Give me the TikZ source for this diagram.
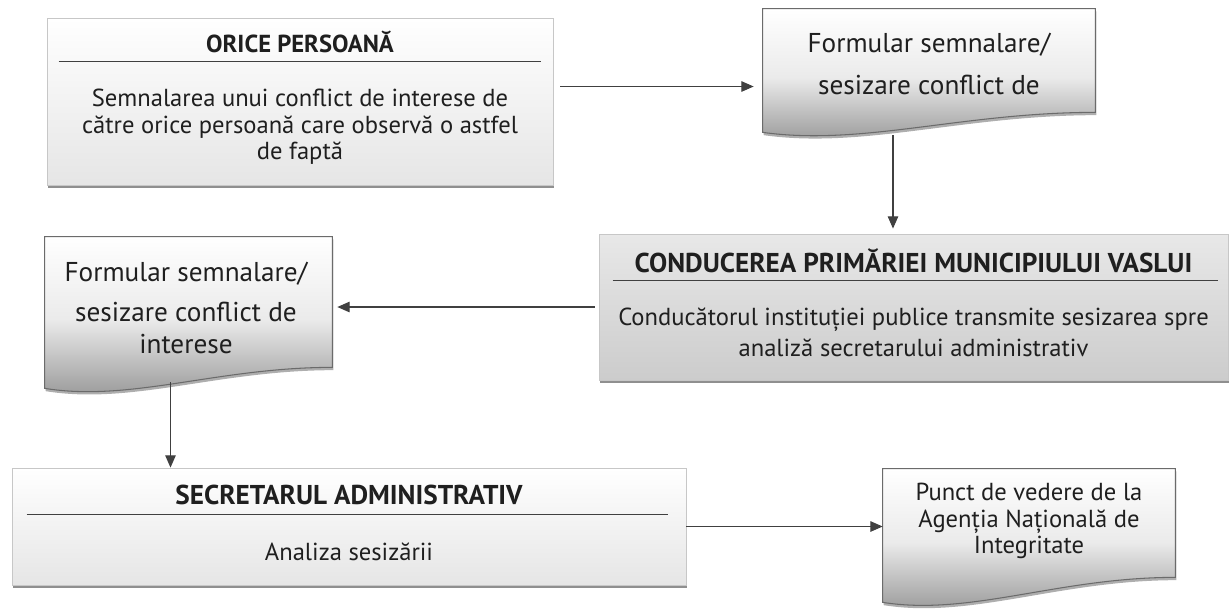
\documentclass[tikz,border=0pt]{standalone}
\usepackage{fontspec}
\setmainfont{PT Sans}
\usetikzlibrary{calc,shadows,arrows.meta}

\newcommand\pxl{0.02cm}
% wavy bottom of a document node, #2 = rise of the right corner
\newcommand\docoutline[2]{%
  \draw[docline] (#1.north west) -- (#1.north east) -- ($(#1.south east)+(0,-#2)$)
    .. controls ($(#1.south west)!0.6!(#1.south east)+(0,-#2)$) and ($(#1.south west)!0.3!(#1.south east)+(0,14)$) .. (#1.south west) -- cycle;}

\tikzset{
  card/.style={draw=black!22, line width=0.5pt, inner sep=0pt,
    top color=white, bottom color=black!10,
    drop shadow={shadow xshift=0.6pt, shadow yshift=-1.6pt, fill=black!55, opacity=0.8}},
  cardgrey/.style={card, top color=black!9, bottom color=black!20},
  docnode/.style={inner sep=0pt},
  docline/.style={draw=black!58, line width=0.6pt,
    top color=white, bottom color=black!42, middle color=black!8,
    drop shadow={shadow xshift=0.6pt, shadow yshift=-1.6pt, fill=black!45, opacity=0.7}},
  head/.style={font=\fontsize{15.5}{18}\selectfont\bfseries, text=black!88},
  body/.style={font=\fontsize{14}{15}\selectfont, text=black!88, align=center},
  docbody/.style={body, font=\fontsize{15.5}{18}\selectfont},
  rule/.style={draw=black!75, line width=0.7pt},
  conn/.style={draw=black!75, line width=0.6pt}
}

\begin{document}
\begin{tikzpicture}[x=\pxl, y=-\pxl, >={Triangle[length=7pt,width=6pt]}]
\useasboundingbox (0,0) rectangle (1232,610);

% boxes
\node[card, minimum width=506*\pxl, minimum height=167*\pxl] (orice) at (300,101.5) {};
\node[cardgrey, minimum width=629*\pxl, minimum height=146*\pxl] (cond) at (913.5,307) {};
\node[card, minimum width=674*\pxl, minimum height=117*\pxl] (secr) at (349,526.5) {};

% documents
\node[docnode, minimum width=332*\pxl, minimum height=123*\pxl] (form1) at (929,70.5) {};
\node[docnode, minimum width=287*\pxl, minimum height=151*\pxl] (form2) at (188.5,312.5) {};
\node[docnode, minimum width=292*\pxl, minimum height=133*\pxl] (punct) at (1029,535.5) {};
\docoutline{form1}{20}
\docoutline{form2}{21}
\docoutline{punct}{25}

% rules under the titles
\foreach \b/\l/\r/\d in {orice/12/12/44, cond/14/10/47, secr/15/18/47}
  \draw[rule] ($(\b.north west)+(\l,\d)$) -- ($(\b.north east)+(-\r,\d)$);

% texts
\node[head, font=\fontsize{14}{16}\selectfont\bfseries] (oriceH) at (300,42) {ORICE PERSOANĂ};
\node[body] (oriceB) at (300,127) {Semnalarea unui conflict de interese de\\ către orice persoană care observă o astfel\\ de faptă};
\node[docbody] (form1T) at (929,64) {Formular semnalare/\\[5.8pt] sesizare conflict de};
\node[head] (condH) at (913.5,261) {CONDUCEREA PRIMĂRIEI MUNICIPIULUI VASLUI};
\node[body] (condB) at (913.5,332) {Conducătorul instituției publice transmite sesizarea spre\\[2.6pt] analiză secretarului administrativ};
\node[docbody] (form2T) at (186,308) {Formular semnalare/\\[4.7pt] sesizare conflict de\\[0.7pt] interese};
\node[head] (secrH) at (349,495) {SECRETARUL ADMINISTRATIV};
\node[body] (secrB) at (349,552) {Analiza sesizării};
\node[body] (punctT) at (1029,521) {Punct de vedere de la\\ Agenția Națională de\\ Integritate};

% arrows
\draw[conn,->] ([shift={(7,-15)}]orice.east) -- ([shift={(-9,-15)}]orice.east -| form1.west);
\draw[conn,->] ([shift={(-36,3)}]form1.south) -- ([shift={(-36,-5)}]form1.south |- cond.north);
\draw[conn,->] ([shift={(-4,0)}]cond.west) -- ([shift={(5,0)}]cond.west -| form2.east);
\draw[conn,->] ([shift={(-18,-6)}]form2.south) -- ([shift={(-18,0)}]form2.south |- secr.north);
\draw[conn,->] (secr.east) -- (secr.east -| punct.west);
\end{tikzpicture}
\end{document}
